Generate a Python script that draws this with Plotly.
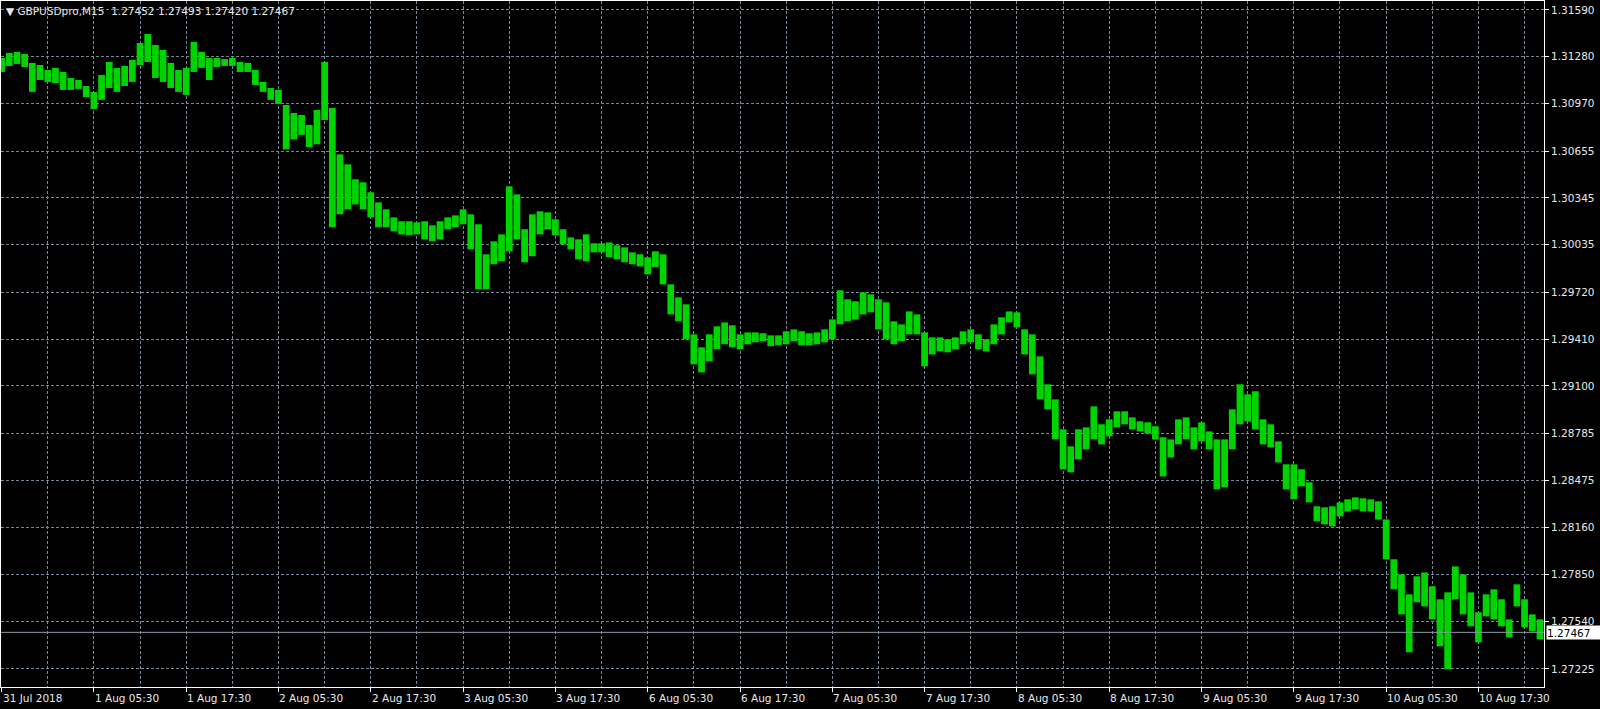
import plotly.graph_objects as go

bar_offsets = list(range(0, 801, 4))

highs = [
    1.31272, 1.31305, 1.31312, 1.31298, 1.31239, 1.31225, 1.31192, 1.31206, 1.31179, 1.31139,
    1.31126, 1.31086, 1.31047, 1.31159, 1.31245, 1.31206, 1.31219, 1.31259, 1.31371, 1.31431,
    1.31358, 1.31325, 1.31239, 1.31192, 1.31206, 1.31378, 1.31312, 1.31272, 1.31272, 1.31265,
    1.31272, 1.31245, 1.31239, 1.31192, 1.31113, 1.31073, 1.31060, 1.30960, 1.30907, 1.30894,
    1.30828, 1.30927, 1.31245, 1.30941, 1.30633, 1.30567, 1.30468, 1.30448, 1.30382, 1.30315,
    1.30269, 1.30216, 1.30190, 1.30190, 1.30183, 1.30190, 1.30163, 1.30190, 1.30216, 1.30229,
    1.30269, 1.30236, 1.30170, 1.29971, 1.30057, 1.30103, 1.30421, 1.30368, 1.30137, 1.30236,
    1.30256, 1.30249, 1.30203, 1.30137, 1.30083, 1.30070, 1.30103, 1.30044, 1.30044, 1.30050,
    1.30031, 1.30017, 1.29984, 1.29971, 1.29951, 1.29991, 1.29971, 1.29772, 1.29686, 1.29640,
    1.29441, 1.29355, 1.29441, 1.29494, 1.29520, 1.29501, 1.29441, 1.29454, 1.29454, 1.29448,
    1.29434, 1.29434, 1.29461, 1.29474, 1.29461, 1.29448, 1.29454, 1.29474, 1.29540, 1.29733,
    1.29673, 1.29660, 1.29719, 1.29706, 1.29673, 1.29653, 1.29527, 1.29507, 1.29593, 1.29573,
    1.29454, 1.29421, 1.29421, 1.29408, 1.29421, 1.29461, 1.29474, 1.29441, 1.29408, 1.29507,
    1.29554, 1.29593, 1.29587, 1.29474, 1.29441, 1.29295, 1.29110, 1.29010, 1.28812, 1.28699,
    1.28812, 1.28825, 1.28964, 1.28845, 1.28878, 1.28931, 1.28931, 1.28891, 1.28865, 1.28858,
    1.28832, 1.28759, 1.28745, 1.28878, 1.28891, 1.28825, 1.28858, 1.28798, 1.28745, 1.28745,
    1.28944, 1.29110, 1.29044, 1.29064, 1.28878, 1.28845, 1.28732, 1.28580, 1.28580, 1.28547,
    1.28461, 1.28302, 1.28295, 1.28302, 1.28328, 1.28348, 1.28361, 1.28355, 1.28348, 1.28335,
    1.28215, 1.27951, 1.27851, 1.27719, 1.27838, 1.27864, 1.27772, 1.27686, 1.27732, 1.27904,
    1.27851, 1.27732, 1.27600, 1.27719, 1.27752, 1.27686, 1.27553, 1.27785, 1.27686, 1.27586,
    1.27553,
]

lows = [
    1.31179, 1.31219, 1.31232, 1.31212, 1.31047, 1.31126, 1.31113, 1.31106, 1.31060, 1.31060,
    1.31067, 1.31013, 1.30934, 1.30994, 1.31073, 1.31047, 1.31086, 1.31113, 1.31225, 1.31245,
    1.31139, 1.31113, 1.31073, 1.31047, 1.31027, 1.31179, 1.31206, 1.31126, 1.31212, 1.31219,
    1.31219, 1.31179, 1.31179, 1.31093, 1.31047, 1.30994, 1.30967, 1.30666, 1.30733, 1.30762,
    1.30680, 1.30700, 1.30861, 1.30150, 1.30236, 1.30269, 1.30302, 1.30269, 1.30216, 1.30150,
    1.30150, 1.30123, 1.30103, 1.30097, 1.30103, 1.30070, 1.30057, 1.30070, 1.30137, 1.30150,
    1.30170, 1.30004, 1.29739, 1.29739, 1.29905, 1.29925, 1.29991, 1.30070, 1.29918, 1.29958,
    1.30103, 1.30137, 1.30097, 1.30037, 1.30004, 1.29938, 1.29925, 1.29984, 1.29984, 1.29951,
    1.29938, 1.29918, 1.29905, 1.29891, 1.29838, 1.29885, 1.29772, 1.29573, 1.29527, 1.29408,
    1.29242, 1.29189, 1.29262, 1.29342, 1.29375, 1.29355, 1.29342, 1.29375, 1.29388, 1.29395,
    1.29362, 1.29368, 1.29375, 1.29395, 1.29368, 1.29368, 1.29375, 1.29388, 1.29408, 1.29507,
    1.29527, 1.29540, 1.29573, 1.29587, 1.29474, 1.29408, 1.29375, 1.29395, 1.29441, 1.29441,
    1.29229, 1.29308, 1.29328, 1.29322, 1.29342, 1.29375, 1.29388, 1.29342, 1.29328, 1.29375,
    1.29441, 1.29520, 1.29487, 1.29308, 1.29176, 1.29010, 1.28944, 1.28745, 1.28547, 1.28527,
    1.28613, 1.28679, 1.28745, 1.28712, 1.28765, 1.28825, 1.28845, 1.28812, 1.28798, 1.28785,
    1.28745, 1.28500, 1.28626, 1.28712, 1.28745, 1.28679, 1.28732, 1.28679, 1.28414, 1.28427,
    1.28679, 1.28845, 1.28865, 1.28812, 1.28712, 1.28692, 1.28593, 1.28414, 1.28348, 1.28434,
    1.28328, 1.28202, 1.28182, 1.28169, 1.28235, 1.28268, 1.28282, 1.28268, 1.28268, 1.28215,
    1.27951, 1.27752, 1.27586, 1.27335, 1.27666, 1.27639, 1.27553, 1.27374, 1.27222, 1.27686,
    1.27586, 1.27507, 1.27401, 1.27573, 1.27553, 1.27507, 1.27434, 1.27639, 1.27500, 1.27474,
    1.27421,
]

price_ticks = [1.31590, 1.31280, 1.30970, 1.30655, 1.30345, 1.30035, 1.29720, 1.29410,
               1.29100, 1.28785, 1.28475, 1.28160, 1.27850, 1.27540, 1.27225]

time_tick_offsets = list(range(0, 769, 48))
time_tick_labels = ["31 Jul 2018", "1 Aug 05:30", "1 Aug 17:30", "2 Aug 05:30", "2 Aug 17:30",
                    "3 Aug 05:30", "3 Aug 17:30", "6 Aug 05:30", "6 Aug 17:30", "7 Aug 05:30",
                    "7 Aug 17:30", "8 Aug 05:30", "8 Aug 17:30", "9 Aug 05:30", "9 Aug 17:30",
                    "10 Aug 05:30", "10 Aug 17:30"]
minor_grid_offsets = list(range(24, 800, 48))

symbol = "GBPUSDpro,M15"
last_ohlc = [1.27452, 1.27493, 1.27420, 1.27467]
current_price = 1.27467

FONT = "DejaVu Sans"
TXT = "#E8E8E8"
GRID = "#778899"

fig = go.Figure()
fig.add_trace(go.Bar(
    x=bar_offsets,
    y=[h - l for h, l in zip(highs, lows)],
    base=lows,
    width=3.5,
    marker=dict(color="#00D400", line=dict(width=0)),
    hoverinfo="skip",
))

fig.add_shape(type="line", xref="paper", x0=0, x1=1, yref="y",
              y0=current_price, y1=current_price,
              line=dict(color="#8C99A6", width=1))

annotations = []
for off, lab in zip(time_tick_offsets, time_tick_labels):
    annotations.append(dict(x=off, xref="x", y=0, yref="paper", text=lab,
                            xanchor="left", yanchor="top", yshift=-3, xshift=-1,
                            showarrow=False, font=dict(family=FONT, size=10.5, color=TXT)))
annotations.append(dict(x=0, xref="paper", y=1, yref="paper",
                        text="▼ " + symbol + "  " + " ".join(f"{v:.5f}" for v in last_ohlc),
                        xanchor="left", yanchor="top", xshift=3, yshift=-2,
                        showarrow=False, font=dict(family=FONT, size=10.5, color=TXT)))
annotations.append(dict(x=1, xref="paper", y=current_price, yref="y",
                        text=f"{current_price:.5f}", xanchor="left", yanchor="middle",
                        xshift=2, width=54, height=13, align="left",
                        bgcolor="#FFFFFF", borderpad=0, showarrow=False,
                        font=dict(family=FONT, size=10.5, color="#000000")))

fig.update_layout(
    width=1600, height=709,
    margin=dict(l=1, r=56, t=1, b=22),
    paper_bgcolor="#000000", plot_bgcolor="#000000",
    showlegend=False,
    annotations=annotations,
    xaxis=dict(
        range=[-0.3, 802.1],
        tickmode="array", tickvals=time_tick_offsets, ticktext=[""] * len(time_tick_offsets),
        ticks="outside", ticklen=4, tickcolor="#FFFFFF", tickwidth=1,
        showgrid=True, gridcolor=GRID, griddash="3px,2px", gridwidth=1,
        minor=dict(tickvals=minor_grid_offsets, showgrid=True, gridcolor=GRID,
                   griddash="3px,2px", gridwidth=1, ticks=""),
        showline=True, linecolor="#FFFFFF", linewidth=1, mirror=True,
        zeroline=False, fixedrange=True,
    ),
    yaxis=dict(
        side="right",
        range=[1.27105, 1.31649],
        tickmode="array", tickvals=price_ticks, ticktext=[f"{v:.5f}" for v in price_ticks],
        ticks="outside", ticklen=4, tickcolor="#FFFFFF", tickwidth=1,
        tickfont=dict(family=FONT, size=10.5, color=TXT),
        showgrid=True, gridcolor=GRID, griddash="3px,2px", gridwidth=1,
        showline=True, linecolor="#FFFFFF", linewidth=1, mirror=True,
        zeroline=False, fixedrange=True,
    ),
)

fig.write_html("out.html", config={"displayModeBar": False},
               post_script="document.body.style.margin='0';document.body.style.background='#000';")
